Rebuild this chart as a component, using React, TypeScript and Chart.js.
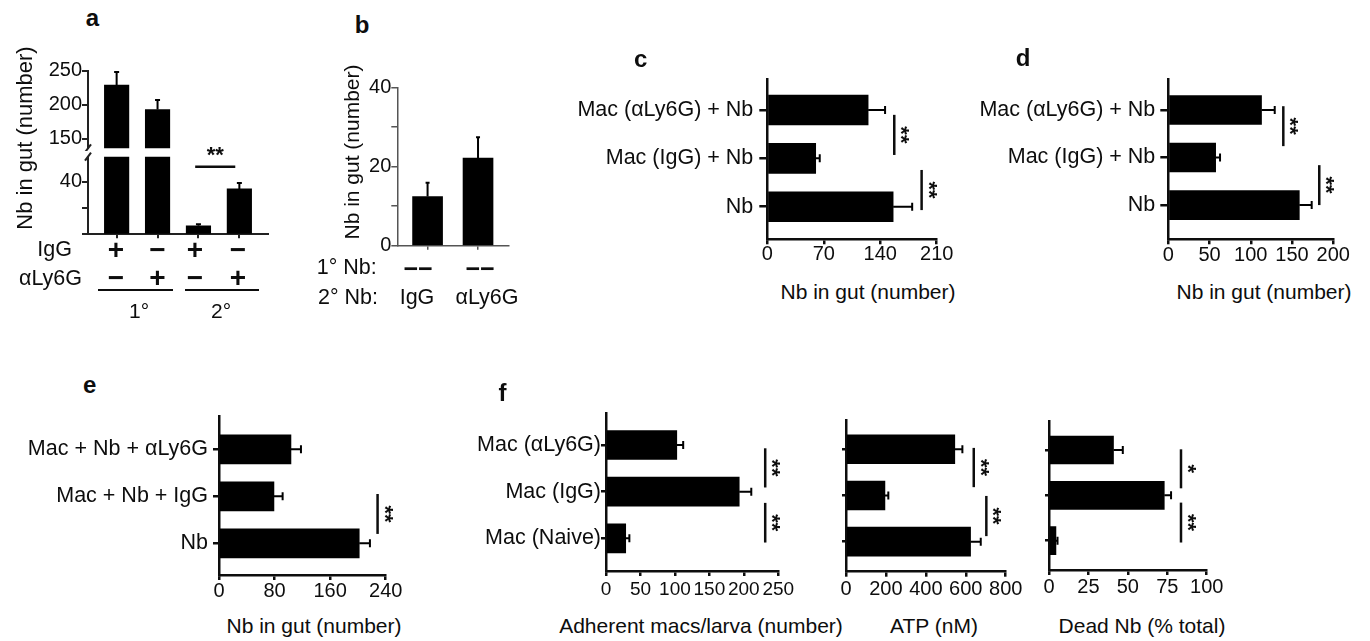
import React, { useEffect, useRef } from 'react';
import { Chart, registerables } from 'chart.js';

Chart.register(...registerables);

const FONT = '"Liberation Sans", Arial, Helvetica, sans-serif';
const INK = '#0d0d0d';
const BAR = '#000000';
Chart.defaults.font.family = FONT;
Chart.defaults.color = INK;

// ---------------- data ----------------
// panel a (broken y axis): groups 1° IgG, 1° αLy6G, 2° IgG, 2° αLy6G
const aValues = [229, 193, 6.5, 34.5];
const aErrors = [19, 14, 1.2, 4.5];
const aUpperTicks = [150, 200, 250];
const aUpperTickLabels = ['150', '200', '250'];
const aLowerTicks = [0, 20, 40];
const aLowerTickLabels = ['', '', '40'];
const aIgGRow = ['+', '−', '+', '−'];
const aLy6GRow = ['−', '+', '−', '+'];
const aSig = [{ at: 51.4, from: 1.92, to: 2.9, text: '**' }];

// panel b
const bGroups = ['IgG', 'αLy6G'];
const bPrimaryRow = ['−−', '−−'];
const bValues = [12.4, 22.1];
const bErrors = [3.5, 5.3];
const bTicks = [0, 10, 20, 30, 40];
const bTickLabels = ['0', '', '20', '', '40'];

// panel c
const cLabels = ['Mac (αLy6G) + Nb', 'Mac (IgG) + Nb', 'Nb'];
const cValues = [125, 60, 156];
const cErrors = [21, 5, 23.6];
const cTicks = [0, 70, 140, 210];
const cSig = [
  { at: 157.4, from: 0.1, to: 0.93, text: '**' },
  { at: 191.3, from: 1.24, to: 2.07, text: '**' },
];

// panel d
const dLabels = ['Mac (αLy6G) + Nb', 'Mac (IgG) + Nb', 'Nb'];
const dValues = [113, 57.4, 158.8];
const dErrors = [16, 5.3, 15];
const dTicks = [0, 50, 100, 150, 200];
const dSig = [
  { at: 139.4, from: -0.08, to: 0.76, text: '**' },
  { at: 183, from: 1.16, to: 2.0, text: '**' },
];

// panel e
const eLabels = ['Mac + Nb + αLy6G', 'Mac + Nb + IgG', 'Nb'];
const eValues = [103.6, 79.1, 201.9];
const eErrors = [14.4, 12.5, 15.4];
const eTicks = [0, 80, 160, 240];
const eSig = [{ at: 228.3, from: 0.95, to: 1.8, text: '**' }];

// panel f
const fLabels = ['Mac (αLy6G)', 'Mac (IgG)', 'Mac (Naive)'];
const fMacsValues = [102.7, 193.3, 28.6];
const fMacsErrors = [9.3, 17.5, 5.3];
const fMacsTicks = [0, 50, 100, 150, 200, 250];
const fMacsSig = [
  { at: 231, from: 0.07, to: 0.91, text: '**' },
  { at: 231, from: 1.24, to: 2.09, text: '**' },
];
const fAtpValues = [545, 195, 624];
const fAtpErrors = [38, 17, 51];
const fAtpTicks = [0, 200, 400, 600, 800];
const fAtpSig = [
  { at: 640, from: -0.03, to: 0.82, text: '**' },
  { at: 703, from: 1.01, to: 1.88, text: '**' },
];
const fDeadValues = [40.9, 73.1, 4.4];
const fDeadErrors = [5.9, 4.3, 1];
const fDeadTicks = [0, 25, 50, 75, 100];
const fDeadSig = [
  { at: 83.7, from: -0.015, to: 0.845, text: '*' },
  { at: 83.7, from: 1.16, to: 2.04, text: '**' },
];

// ---------------- plugins ----------------
const errorBarsPlugin = {
  id: 'errorBars',
  afterDatasetsDraw(chart: any, _args: any, opts: any) {
    const { ctx } = chart;
    const horizontal = chart.options.indexAxis === 'y';
    const vScale = horizontal ? chart.scales.x : chart.scales.y;
    chart.data.datasets.forEach((ds: any, di: number) => {
      const errs: number[] | undefined = ds.errors;
      if (!errs) return;
      const meta = chart.getDatasetMeta(di);
      ctx.save();
      ctx.strokeStyle = (opts && opts.color) || '#000';
      ctx.lineWidth = (opts && opts.width) || 2;
      meta.data.forEach((el: any, i: number) => {
        const parsed = meta.controller.getParsed(i);
        const v = horizontal ? parsed.x : parsed.y;
        if (v < vScale.min || v > vScale.max) return;
        const p0 = vScale.getPixelForValue(v);
        const p1 = vScale.getPixelForValue(v + errs[i]);
        const c = horizontal ? el.y : el.x;
        const h = (opts && opts.cap) || 3;
        ctx.beginPath();
        if (horizontal) {
          ctx.moveTo(p0, c);
          ctx.lineTo(p1, c);
          ctx.moveTo(p1, c - h);
          ctx.lineTo(p1, c + h);
        } else {
          ctx.moveTo(c, p0);
          ctx.lineTo(c, p1);
          ctx.moveTo(c - h, p1);
          ctx.lineTo(c + h, p1);
        }
        ctx.stroke();
      });
      ctx.restore();
    });
  },
};

const sigPlugin = {
  id: 'sig',
  afterDatasetsDraw(chart: any, _args: any, opts: any) {
    const items = opts && opts.items;
    if (!items || !items.length) return;
    const { ctx } = chart;
    const horizontal = chart.options.indexAxis === 'y';
    const vScale = horizontal ? chart.scales.x : chart.scales.y;
    const iScale = horizontal ? chart.scales.y : chart.scales.x;
    ctx.save();
    ctx.strokeStyle = INK;
    ctx.fillStyle = INK;
    ctx.lineWidth = opts.width || 2.5;
    ctx.font = `bold ${opts.size || 22}px ${FONT}`;
    ctx.textAlign = 'center';
    ctx.textBaseline = 'middle';
    for (let k = 0; k < items.length; k++) {
      const it = items[k];
      const p = vScale.getPixelForValue(it.at);
      const a = iScale.getPixelForValue(it.from);
      const b = iScale.getPixelForValue(it.to);
      ctx.beginPath();
      if (horizontal) {
        ctx.moveTo(p, a);
        ctx.lineTo(p, b);
      } else {
        ctx.moveTo(a, p);
        ctx.lineTo(b, p);
      }
      ctx.stroke();
      const off = opts.offset ?? 6;
      ctx.save();
      if (horizontal) {
        ctx.translate(p + off, (a + b) / 2);
        ctx.rotate(Math.PI / 2);
      } else {
        ctx.translate((a + b) / 2, p - off);
      }
      ctx.fillText(it.text, 0, 0);
      ctx.restore();
    }
    ctx.restore();
  },
};

const breakPlugin = {
  id: 'axisBreak',
  afterDraw(chart: any, _args: any, opts: any) {
    if (!opts || !opts.edge) return;
    const { ctx, chartArea } = chart;
    const x = chartArea.left;
    const y = opts.edge === 'bottom' ? chartArea.bottom : chartArea.top;
    ctx.save();
    ctx.strokeStyle = opts.color || INK;
    ctx.lineWidth = opts.width || 2;
    ctx.beginPath();
    ctx.moveTo(x - 3, y + 4);
    ctx.lineTo(x + 3, y - 4);
    ctx.stroke();
    ctx.restore();
  },
};

// ---------------- helpers ----------------
type Area = { l: number; t: number; r: number; b: number };
type Margins = { l: number; t: number; r: number; b: number };
type Frame = { left: number; top: number; width: number; height: number; yw: number; pt: number; pr: number; xh: number };

function frame(area: Area, m: Margins): Frame {
  const left = Math.floor(area.l - m.l);
  const top = Math.floor(area.t - m.t);
  const right = Math.ceil(area.r + m.r);
  const bottom = Math.ceil(area.b + m.b);
  return { left, top, width: right - left, height: bottom - top, yw: area.l - left, pt: area.t - top, pr: right - area.r, xh: bottom - area.b };
}

const fixedTicks = (vals: number[]) => (s: any) => {
  s.ticks = vals.map((v) => ({ value: v }));
};
const fitW = (w: number) => (s: any) => {
  s.width = w;
  s.paddingLeft = 0; s.paddingRight = 0; s.paddingTop = 0; s.paddingBottom = 0;
};
const fitH = (h: number) => (s: any) => {
  s.height = h;
  s.paddingLeft = 0; s.paddingRight = 0; s.paddingTop = 0; s.paddingBottom = 0;
};

type Sig = { at: number; from: number; to: number; text: string };

function hBar(o: {
  labels: string[]; values: number[]; errors: number[]; xTicks: number[]; xMax: number;
  iMin: number; iMax: number; thickness: number; sig: Sig[];
  yTick: number; yPad: number; xPad: number; showLabels: boolean; tickSize?: number;
}) {
  return (f: Frame) => ({
    type: 'bar',
    data: {
      datasets: [{
        data: o.values.map((v, i) => ({ x: v, y: i })),
        errors: o.errors,
        backgroundColor: BAR,
        borderWidth: 0,
        barThickness: o.thickness,
      }],
    },
    options: {
      indexAxis: 'y', animation: false, responsive: false, devicePixelRatio: 1, events: [],
      layout: { padding: { left: 0, top: f.pt, right: f.pr, bottom: 0 } },
      plugins: {
        legend: { display: false }, tooltip: { enabled: false },
        errorBars: { cap: 4, width: 2 },
        sig: { items: o.sig, offset: 6, size: 22, width: 2.5 },
      },
      scales: {
        x: {
          type: 'linear', min: 0, max: o.xMax, bounds: 'data',
          afterBuildTicks: fixedTicks(o.xTicks), afterFit: fitH(f.xh),
          ticks: { color: INK, font: { family: FONT, size: o.tickSize || 20, lineHeight: 1 }, padding: o.xPad, maxRotation: 0, minRotation: 0, autoSkip: false },
          grid: { display: true, drawOnChartArea: false, drawTicks: true, tickLength: 5, color: INK, lineWidth: 2.5 },
          border: { display: true, color: INK, width: 2.5 },
        },
        y: {
          type: 'linear', reverse: true, min: o.iMin, max: o.iMax, bounds: 'data', offset: false,
          afterBuildTicks: fixedTicks(o.labels.map((_, i) => i)), afterFit: fitW(f.yw),
          ticks: {
            color: INK, font: { family: FONT, size: 21.5, lineHeight: 1 }, padding: o.yPad, autoSkip: false,
            callback: (v: number) => (o.showLabels ? o.labels[v] : ''),
          },
          grid: { display: true, drawOnChartArea: false, drawTicks: true, tickLength: o.yTick, color: INK, lineWidth: 2.5, offset: false },
          border: { display: true, color: INK, width: 2.5 },
        },
      },
    },
    plugins: [errorBarsPlugin, sigPlugin],
  });
}

function vBar(o: {
  values: number[]; errors: number[]; xMin: number; xMax: number; xTicks: number[];
  yMin: number; yMax: number; yTicks: number[]; yLabels: string[]; thickness: number;
  sig?: Sig[]; showX: boolean; color: string; width: number; brk?: string; cap: number;
}) {
  return (f: Frame) => ({
    type: 'bar',
    data: {
      datasets: [{
        data: o.values.map((v, i) => ({ x: i, y: v })),
        errors: o.errors,
        backgroundColor: BAR,
        borderWidth: 0,
        barThickness: o.thickness,
        clip: 0,
      }],
    },
    options: {
      animation: false, responsive: false, devicePixelRatio: 1, events: [],
      layout: { padding: { left: 0, top: f.pt, right: f.pr, bottom: o.showX ? 0 : f.xh } },
      plugins: {
        legend: { display: false }, tooltip: { enabled: false },
        errorBars: { cap: o.cap, width: 2 },
        sig: { items: o.sig || [], offset: 11, size: 22, width: 2.5 },
        axisBreak: { edge: o.brk, color: o.color, width: o.width },
      },
      scales: {
        x: o.showX
          ? {
            type: 'linear', min: o.xMin, max: o.xMax, bounds: 'data', offset: false,
            afterBuildTicks: fixedTicks(o.xTicks), afterFit: fitH(f.xh),
            ticks: { display: false },
            grid: { display: true, drawOnChartArea: false, drawTicks: true, tickLength: 4, color: o.color, lineWidth: o.width, offset: false },
            border: { display: true, color: o.color, width: o.width },
          }
          : { display: false, type: 'linear', min: o.xMin, max: o.xMax, bounds: 'data', offset: false },
        y: {
          type: 'linear', min: o.yMin, max: o.yMax, bounds: 'data',
          afterBuildTicks: fixedTicks(o.yTicks), afterFit: fitW(f.yw),
          ticks: {
            color: INK, font: { family: FONT, size: 20, lineHeight: 1 }, padding: 0, autoSkip: false,
            callback: (v: number) => o.yLabels[o.yTicks.indexOf(v)] ?? '',
          },
          grid: { display: true, drawOnChartArea: false, drawTicks: true, tickLength: 6, color: o.color, lineWidth: o.width },
          border: { display: true, color: o.color, width: o.width },
        },
      },
    },
    plugins: [errorBarsPlugin, sigPlugin, breakPlugin],
  });
}

// ---------------- chart instances ----------------
const panels: { key: string; fr: Frame; make: (f: Frame) => any }[] = [
  {
    key: 'a-top',
    fr: frame({ l: 88, t: 70.7, r: 268, b: 148.3 }, { l: 60, t: 14, r: 10, b: 2 }),
    make: vBar({
      values: aValues, errors: aErrors, xMin: -0.7, xMax: 3.7, xTicks: [0, 1, 2, 3],
      yMin: 136, yMax: 250, yTicks: aUpperTicks, yLabels: aUpperTickLabels, thickness: 24.5,
      showX: false, color: '#222', width: 2, brk: 'bottom', cap: 2.5,
    }),
  },
  {
    key: 'a-bottom',
    fr: frame({ l: 88, t: 156.7, r: 268, b: 234.3 }, { l: 60, t: 24, r: 10, b: 10 }),
    make: vBar({
      values: aValues, errors: aErrors, xMin: -0.7, xMax: 3.7, xTicks: [0, 1, 2, 3],
      yMin: 0, yMax: 59, yTicks: aLowerTicks, yLabels: aLowerTickLabels, thickness: 24.5,
      sig: aSig, showX: true, color: '#222', width: 2, brk: 'top', cap: 2.5,
    }),
  },
  {
    key: 'b',
    fr: frame({ l: 397.3, t: 87.3, r: 508.3, b: 245.7 }, { l: 40, t: 14, r: 10, b: 10 }),
    make: vBar({
      values: bValues, errors: bErrors, xMin: -0.6, xMax: 1.6, xTicks: [0, 1],
      yMin: 0, yMax: 40, yTicks: bTicks, yLabels: bTickLabels, thickness: 30,
      showX: true, color: '#555', width: 1.5, cap: 2,
    }),
  },
  {
    key: 'c',
    fr: frame({ l: 767.3, t: 79.3, r: 936.7, b: 239.3 }, { l: 200, t: 10, r: 25, b: 32 }),
    make: hBar({
      labels: cLabels, values: cValues, errors: cErrors, xTicks: cTicks, xMax: 210,
      iMin: -0.635, iMax: 2.674, thickness: 30, sig: cSig, yTick: 8, yPad: 6, xPad: 0, showLabels: true,
    }),
  },
  {
    key: 'd',
    fr: frame({ l: 1168.3, t: 79.3, r: 1333.3, b: 239.3 }, { l: 195, t: 10, r: 30, b: 32 }),
    make: hBar({
      labels: dLabels, values: dValues, errors: dErrors, xTicks: dTicks, xMax: 200,
      iMin: -0.646, iMax: 2.72, thickness: 29, sig: dSig, yTick: 8, yPad: 5, xPad: 1, showLabels: true,
    }),
  },
  {
    key: 'e',
    fr: frame({ l: 219, t: 416.7, r: 385.7, b: 575 }, { l: 200, t: 10, r: 25, b: 32 }),
    make: hBar({
      labels: eLabels, values: eValues, errors: eErrors, xTicks: eTicks, xMax: 240,
      iMin: -0.694, iMax: 2.674, thickness: 29, sig: eSig, yTick: 6, yPad: 5, xPad: 1.5, showLabels: true,
    }),
  },
  {
    key: 'f1',
    fr: frame({ l: 606, t: 413.3, r: 778.3, b: 571 }, { l: 140, t: 10, r: 25, b: 32 }),
    make: hBar({
      labels: fLabels, values: fMacsValues, errors: fMacsErrors, xTicks: fMacsTicks, xMax: 250,
      iMin: -0.68, iMax: 2.7, thickness: 29, sig: fMacsSig, yTick: 5, yPad: 0, xPad: 4.5, showLabels: true, tickSize: 19,
    }),
  },
  {
    key: 'f2',
    fr: frame({ l: 846, t: 420, r: 1005.7, b: 571.7 }, { l: 10, t: 10, r: 25, b: 32 }),
    make: hBar({
      labels: fLabels, values: fAtpValues, errors: fAtpErrors, xTicks: fAtpTicks, xMax: 800,
      iMin: -0.634, iMax: 2.65, thickness: 29, sig: fAtpSig, yTick: 4, yPad: 0, xPad: 3, showLabels: false,
    }),
  },
  {
    key: 'f3',
    fr: frame({ l: 1049, t: 421.7, r: 1206.7, b: 570 }, { l: 10, t: 10, r: 25, b: 32 }),
    make: hBar({
      labels: fLabels, values: fDeadValues, errors: fDeadErrors, xTicks: fDeadTicks, xMax: 100,
      iMin: -0.624, iMax: 2.646, thickness: 28, sig: fDeadSig, yTick: 4, yPad: 0, xPad: 2.5, showLabels: false,
    }),
  },
];

// ---------------- components ----------------
function ChartPanel({ fr, make }: { fr: Frame; make: (f: Frame) => any }) {
  const ref = useRef<HTMLCanvasElement | null>(null);
  useEffect(() => {
    if (!ref.current) return;
    const chart = new Chart(ref.current, make(fr));
    return () => chart.destroy();
  }, []);
  return (
    <canvas
      ref={ref}
      width={fr.width}
      height={fr.height}
      style={{ position: 'absolute', left: fr.left, top: fr.top, width: fr.width, height: fr.height, display: 'block' }}
    />
  );
}

function T(p: { x: number; y: number; text: string; size?: number; bold?: boolean; align?: 'left' | 'center' | 'right'; rotate?: boolean }) {
  const align = p.align || 'center';
  const tx = align === 'center' ? '-50%' : align === 'right' ? '-100%' : '0';
  return (
    <div
      style={{
        position: 'absolute', left: p.x, top: p.y, fontFamily: FONT, fontSize: p.size || 21,
        fontWeight: p.bold ? 'bold' : 'normal', lineHeight: 1, whiteSpace: 'nowrap', color: INK,
        transform: `translate(${tx}, -50%)${p.rotate ? ' rotate(-90deg)' : ''}`,
      }}
    >
      {p.text}
    </div>
  );
}

function HLine(p: { x1: number; x2: number; y: number; w?: number }) {
  const w = p.w || 2.5;
  return <div style={{ position: 'absolute', left: p.x1, top: p.y - w / 2, width: p.x2 - p.x1, height: w, background: INK }} />;
}

const aSignX = [116, 157.5, 195, 238];

export default function App() {
  return (
    <div style={{ position: 'fixed', left: 0, top: 0, width: 1370, height: 641, background: '#fff', overflow: 'hidden' }}>
      {panels.map((p) => (
        <ChartPanel key={p.key} fr={p.fr} make={p.make} />
      ))}

      {/* panel letters */}
      <T x={92.5} y={18.2} text="a" size={24} bold />
      <T x={362} y={24.7} text="b" size={24} bold />
      <T x={640.7} y={58.7} text="c" size={24} bold />
      <T x={1023} y={58.2} text="d" size={24} bold />
      <T x={89.7} y={384.7} text="e" size={24} bold />
      <T x={502.5} y={393.2} text="f" size={24} bold />

      {/* panel a annotations */}
      <T x={25} y={138.3} text="Nb in gut (number)" size={22} rotate />
      <T x={72} y={250} text="IgG" size={21.5} align="right" />
      <T x={82} y={279} text="αLy6G" size={21.5} align="right" />
      {aIgGRow.map((s, i) => (
        <T key={'ig' + i} x={aSignX[i]} y={250} text={s} size={28} bold />
      ))}
      {aLy6GRow.map((s, i) => (
        <T key={'ly' + i} x={aSignX[i]} y={278} text={s} size={28} bold />
      ))}
      <HLine x1={98} x2={172.7} y={290} />
      <HLine x1={185} x2={259.3} y={290} />
      <T x={139} y={310} text="1°" />
      <T x={221} y={310} text="2°" />

      {/* panel b annotations */}
      <T x={351} y={151.7} text="Nb in gut (number)" size={21} rotate />
      <T x={376.7} y={268.3} text="1° Nb:" size={21.5} align="right" />
      <T x={378} y={298} text="2° Nb:" size={21.5} align="right" />
      <T x={418} y={267.5} text={bPrimaryRow[0]} size={25} bold />
      <T x={480} y={267.5} text={bPrimaryRow[1]} size={25} bold />
      <T x={417} y={298} text={bGroups[0]} size={21.5} />
      <T x={487} y={298} text={bGroups[1]} size={21.5} />

      {/* axis titles */}
      <T x={868} y={291} text="Nb in gut (number)" />
      <T x={1264} y={291} text="Nb in gut (number)" />
      <T x={314} y={625} text="Nb in gut (number)" />
      <T x={701} y={625} text="Adherent macs/larva (number)" />
      <T x={934} y={625} text="ATP (nM)" />
      <T x={1142} y={625} text="Dead Nb (% total)" />
    </div>
  );
}
